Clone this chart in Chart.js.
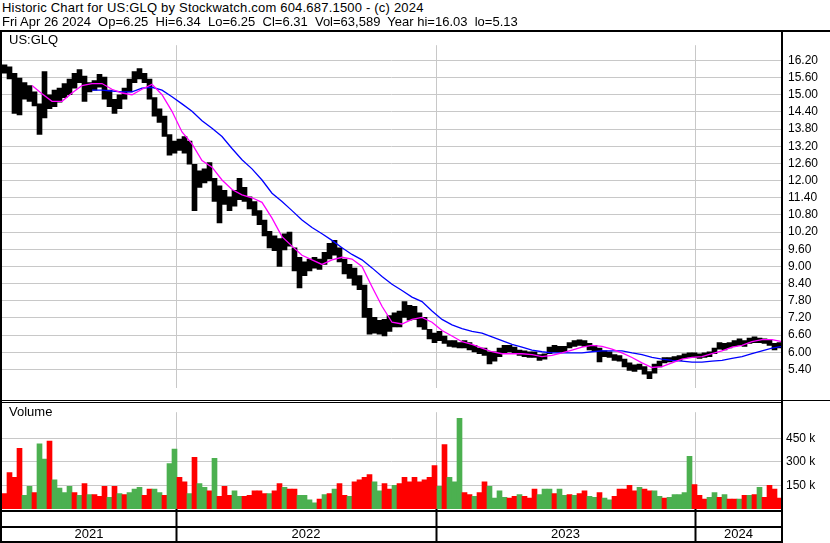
<!DOCTYPE html>
<html>
<head>
<meta charset="utf-8">
<script src="https://cdn.jsdelivr.net/npm/chart.js@4.4.1/dist/chart.umd.min.js"></script>
<style>
  body { margin: 0; background: #fff; font-family: "Liberation Sans", Arial, sans-serif; }
  #wrap { position: relative; width: 830px; height: 543px; overflow: hidden; }
  .txt { position: absolute; font-size: 13px; line-height: 14px; white-space: pre; color: #000; z-index: 3; }
  #head1 { letter-spacing: 0.2px; }
  .ln { position: absolute; background: #000; z-index: 2; }
  canvas { position: absolute; left: 0; }
</style>
</head>
<body>
<div id="wrap">
  <div class="txt" id="head1" style="left:2px;top:1px">Historic Chart for US:GLQ by Stockwatch.com 604.687.1500 - (c) 2024</div>
  <div class="txt" style="left:2px;top:15px">Fri Apr 26 2024  Op=6.25  Hi=6.34  Lo=6.25  Cl=6.31  Vol=63,589  Year hi=16.03  lo=5.13</div>
  <div class="txt" style="left:9px;top:33px">US:GLQ</div>
  <div class="txt" style="left:9px;top:405px">Volume</div>

  <canvas id="price" width="830" height="369" style="top:32px"></canvas>
  <canvas id="vol" width="830" height="142" style="top:401px"></canvas>

  <!-- frame -->
  <div class="ln" style="left:0;top:30px;width:830px;height:2px"></div>
  <div class="ln" style="left:0;top:32px;width:2px;height:511px"></div>
  <div class="ln" style="left:781px;top:32px;width:2px;height:511px"></div>
  <div class="ln" style="left:0;top:400px;width:830px;height:1px"></div>
  <div class="ln" style="left:0;top:402px;width:782px;height:1px"></div>
  <div class="ln" style="left:0;top:510px;width:783px;height:2px"></div>
  <div class="ln" style="left:0;top:526px;width:783px;height:2px"></div>
  <div class="ln" style="left:0;top:541px;width:783px;height:2px"></div>
</div>

<script>
// x runs in trading sessions from the first bar; one bar per 5 sessions
const dayStep = 5;
const yearLabels = ['2021', '2022', '2023', '2024'];
const yearStarts = [174, 434, 693];
const priceTicks = [5.4, 6.0, 6.6, 7.2, 7.8, 8.4, 9.0, 9.6, 10.2, 10.8, 11.4, 12.0, 12.6, 13.2, 13.8, 14.4, 15.0, 15.6, 16.2];
const volTicks = [150, 300, 450];

const priceHi = [
  16.04, 15.97, 15.75, 15.58, 15.42, 15.32, 15.10, 14.68, 15.81, 15.00,
  15.16, 15.23, 15.39, 15.55, 15.75, 15.88, 15.65, 15.42, 15.49, 15.71,
  15.62, 15.16, 14.84, 15.00, 15.23, 15.55, 15.81, 15.91, 15.75, 15.55,
  14.90, 14.51, 14.25, 13.61, 13.38, 13.45, 13.54, 13.38, 12.57, 12.34,
  12.41, 12.63, 12.08, 11.82, 11.66, 11.43, 11.66, 12.08, 11.76, 11.43,
  11.27, 10.95, 10.62, 10.23, 10.07, 9.97, 10.14, 10.20, 9.65, 9.32,
  9.16, 9.26, 9.32, 9.26, 9.49, 9.81, 9.91, 9.65, 9.26, 9.07,
  8.94, 8.68, 8.35, 7.54, 7.22, 7.12, 7.15, 7.28, 7.38, 7.44,
  7.77, 7.64, 7.61, 7.38, 7.22, 6.80, 6.67, 6.73, 6.57, 6.41,
  6.41, 6.34, 6.41, 6.34, 6.24, 6.15, 6.15, 6.02, 6.02, 6.15,
  6.24, 6.24, 6.18, 6.08, 6.05, 6.02, 6.02, 5.92, 5.95, 6.18,
  6.24, 6.21, 6.21, 6.34, 6.41, 6.44, 6.41, 6.31, 6.24, 6.15,
  6.05, 6.02, 5.92, 5.89, 5.76, 5.63, 5.56, 5.59, 5.50, 5.33,
  5.59, 5.69, 5.82, 5.82, 5.85, 5.89, 5.95, 5.98, 5.98, 5.95,
  5.98, 6.02, 6.15, 6.34, 6.31, 6.34, 6.41, 6.47, 6.41, 6.50,
  6.54, 6.50, 6.47, 6.44, 6.31, 6.34
];
const priceLo = [
  15.75, 15.55, 14.35, 14.29, 14.84, 14.77, 14.61, 13.61, 14.19, 14.51,
  14.58, 14.74, 14.90, 15.00, 15.23, 15.42, 14.77, 15.10, 15.16, 15.26,
  14.84, 14.58, 14.35, 14.51, 14.84, 15.10, 15.42, 15.55, 15.42, 14.84,
  14.25, 14.03, 13.54, 12.89, 12.96, 13.05, 12.96, 12.57, 10.95, 11.76,
  11.92, 11.99, 11.27, 10.52, 11.17, 10.95, 11.11, 11.33, 11.27, 11.01,
  10.78, 10.46, 10.07, 9.65, 9.55, 9.00, 9.58, 9.71, 8.84, 8.25,
  8.68, 8.84, 8.94, 8.90, 9.07, 9.26, 9.39, 9.16, 8.74, 8.58,
  8.35, 8.19, 7.22, 6.63, 6.67, 6.63, 6.57, 6.73, 6.89, 6.89,
  7.22, 7.12, 7.15, 6.89, 6.80, 6.47, 6.34, 6.41, 6.31, 6.21,
  6.18, 6.15, 6.15, 6.08, 6.01, 5.95, 5.89, 5.59, 5.69, 5.85,
  5.98, 6.01, 5.95, 5.89, 5.85, 5.82, 5.82, 5.72, 5.76, 5.95,
  6.01, 6.01, 6.01, 6.15, 6.21, 6.24, 6.21, 6.08, 6.05, 5.66,
  5.85, 5.82, 5.72, 5.69, 5.49, 5.37, 5.33, 5.40, 5.24, 5.08,
  5.27, 5.49, 5.63, 5.66, 5.69, 5.72, 5.79, 5.82, 5.82, 5.79,
  5.82, 5.85, 5.95, 6.11, 6.08, 6.15, 6.21, 6.24, 6.21, 6.31,
  6.34, 6.34, 6.31, 6.24, 6.08, 6.15
];

// volume in thousands, R = down day, G = up day
const volume = [
  98, 231, 202, 386, 87, 144, 104, 415, 317, 433,
  185, 133, 104, 144, 104, 87, 162, 92, 92, 81,
  144, 75, 144, 98, 92, 104, 127, 138, 87, 127,
  127, 104, 87, 289, 381, 202, 173, 98, 329, 162,
  138, 115, 323, 81, 144, 87, 115, 81, 81, 87,
  115, 115, 98, 98, 115, 162, 138, 127, 127, 87,
  87, 58, 40, 63, 92, 98, 127, 162, 87, 81,
  173, 185, 202, 219, 173, 115, 162, 127, 150, 162,
  202, 173, 202, 173, 185, 202, 277, 144, 410, 202,
  173, 577, 104, 92, 81, 104, 173, 144, 69, 115,
  75, 69, 81, 92, 81, 69, 127, 92, 127, 127,
  98, 127, 87, 92, 87, 98, 115, 81, 75, 104,
  69, 58, 81, 127, 127, 150, 115, 138, 127, 115,
  115, 81, 69, 75, 92, 92, 104, 335, 156, 87,
  63, 75, 104, 75, 92, 63, 63, 63, 87, 87,
  92, 138, 75, 150, 127, 69
];
const volDir = ('RRRRGGRGGR' + 'GGGGRGRGRR' + 'RGRGRGGGRR' + 'GGRGGRRGRG' + 'GRGRRRGGRR' +
  'RRRGRRGRRG' + 'GGGRGRGRRG' + 'RRRRGGRRGR' + 'RRRRRRRGRG' + 'GGRRGRRGGG' +
  'GRRGRRRGGG' + 'RGGRGRRGGR' + 'GGRRRRRGRR' + 'GGRGGGGGRR' + 'RGGRGRRGRG' + 'RGRRRR').split('');

// moving averages, read every 10 sessions
const maStep = 10;
const maShortStart = 30;
const maShort = [
  15.32, 15.03, 14.77, 14.77, 15.06, 15.32, 15.39, 15.39,
  15.19, 15.06, 15.00, 15.19, 15.36, 15.00, 14.42, 13.70, 13.28, 12.70,
  12.47, 12.02, 11.69, 11.50, 11.40, 11.24, 10.69, 10.04, 9.71, 9.39,
  9.23, 9.07, 9.23, 9.32, 9.26, 9.00, 8.29, 7.61, 7.05, 6.99,
  7.15, 7.22, 7.05, 6.76, 6.57, 6.37, 6.28, 6.15, 6.02, 5.95,
  5.95, 5.95, 5.92, 5.85, 5.89, 5.98, 6.08, 6.18, 6.24, 6.21,
  6.11, 5.98, 5.82, 5.63, 5.47, 5.50, 5.63, 5.76, 5.82, 5.85,
  5.95, 6.05, 6.18, 6.24, 6.37, 6.44, 6.44, 6.37
];
const maLongStart = 90;
const maLong = [
  15.16, 15.16,
  15.13, 15.10, 15.10, 15.23, 15.26, 15.16, 14.93, 14.68, 14.42, 14.09,
  13.83, 13.54, 13.12, 12.73, 12.41, 12.02, 11.56, 11.27, 10.95, 10.62,
  10.36, 10.14, 9.91, 9.65, 9.42, 9.23, 8.95, 8.65, 8.38, 8.16,
  7.93, 7.77, 7.44, 7.15, 6.96, 6.83, 6.73, 6.67, 6.54, 6.41,
  6.28, 6.18, 6.08, 6.02, 5.98, 5.98, 5.98, 5.98, 6.02, 6.05,
  6.05, 6.05, 5.98, 5.92, 5.82, 5.76, 5.72, 5.69, 5.66, 5.66,
  5.69, 5.72, 5.79, 5.85, 5.95, 6.05, 6.15, 6.21
];

Chart.defaults.font.family = '"Liberation Sans", Arial, sans-serif';
Chart.defaults.color = '#000';
Chart.defaults.animation = false;

const gridGray = '#c8c8c8';
const xMin = 0;
const xMax = 780;

const priceBars = priceHi.map((h, i) => ({ x: i * dayStep + dayStep / 2, y: [priceLo[i], h] }));
const volBars = volume.map((v, i) => ({ x: i * dayStep + dayStep / 2, y: v }));
const volColors = volDir.map(d => d === 'R' ? '#ff0000' : '#4cb050');
const shortLine = maShort.map((v, i) => ({ x: maShortStart + i * maStep, y: v }));
const longLine = maLong.map((v, i) => ({ x: maLongStart + i * maStep, y: v }));

// year labels sit midway between the year boundaries
const bounds = [xMin].concat(yearStarts, [xMax]);
const yearMids = yearLabels.map((y, i) => (bounds[i] + bounds[i + 1]) / 2);
const volXTicks = yearStarts.concat(yearMids).sort((a, b) => a - b);
const isBound = t => t && yearStarts.includes(t.value);

new Chart(document.getElementById('price'), {
  type: 'bar',
  data: {
    datasets: [
      { type: 'line', data: shortLine, borderColor: '#ff00ff', borderWidth: 1.3, pointRadius: 0, order: 0 },
      { type: 'line', data: longLine, borderColor: '#0000ff', borderWidth: 1.3, pointRadius: 0, order: 0 },
      { data: priceBars, backgroundColor: '#000', barPercentage: 1, categoryPercentage: 1, order: 1 }
    ]
  },
  options: {
    responsive: false,
    devicePixelRatio: 1,
    layout: { padding: { left: 2, top: 0, right: 0, bottom: 0 } },
    plugins: { legend: { display: false }, tooltip: { enabled: false } },
    scales: {
      x: {
        type: 'linear', min: xMin, max: xMax, offset: false,
        afterBuildTicks: s => { s.ticks = yearStarts.map(v => ({ value: v })); },
        afterFit: s => { s.height = 0; },
        grid: { color: gridGray, drawTicks: false, offset: false },
        border: { display: false },
        ticks: { display: false }
      },
      y: {
        position: 'right', min: 4.76, max: 16.73,
        afterBuildTicks: s => { s.ticks = priceTicks.map(v => ({ value: v })); },
        afterFit: s => { s.width = 48; },
        grid: { color: gridGray, drawTicks: false },
        border: { display: true, color: '#000', width: 2 },
        ticks: { padding: 6, autoSkip: false, font: { size: 12 }, callback: v => v.toFixed(2) }
      }
    }
  }
});

new Chart(document.getElementById('vol'), {
  type: 'bar',
  data: {
    datasets: [
      { data: volBars, backgroundColor: volColors, barPercentage: 1, categoryPercentage: 1 }
    ]
  },
  options: {
    responsive: false,
    devicePixelRatio: 1,
    layout: { padding: { left: 2, top: 2, right: 0, bottom: 0 } },
    plugins: { legend: { display: false }, tooltip: { enabled: false } },
    scales: {
      x: {
        type: 'linear', min: xMin, max: xMax, offset: false,
        afterBuildTicks: s => { s.ticks = volXTicks.map(v => ({ value: v })); },
        afterFit: s => { s.height = 34; },
        grid: {
          offset: false,
          color: c => isBound(c.tick) ? gridGray : 'transparent',
          tickLength: 34, tickWidth: 2,
          tickColor: c => isBound(c.tick) ? '#000' : 'transparent'
        },
        border: { display: false },
        ticks: {
          autoSkip: false, maxRotation: 0, padding: -16, font: { size: 13 },
          callback: v => { const i = yearMids.indexOf(v); return i < 0 ? '' : yearLabels[i]; }
        }
      },
      y: {
        position: 'right', min: 0, max: 616,
        afterBuildTicks: s => { s.ticks = volTicks.map(v => ({ value: v })); },
        afterFit: s => { s.width = 48; },
        grid: { color: gridGray, drawTicks: false },
        border: { display: true, color: '#000', width: 2 },
        ticks: { padding: 4, autoSkip: false, font: { size: 12 }, callback: v => v + ' k' }
      }
    }
  }
});
</script>
</body>
</html>
